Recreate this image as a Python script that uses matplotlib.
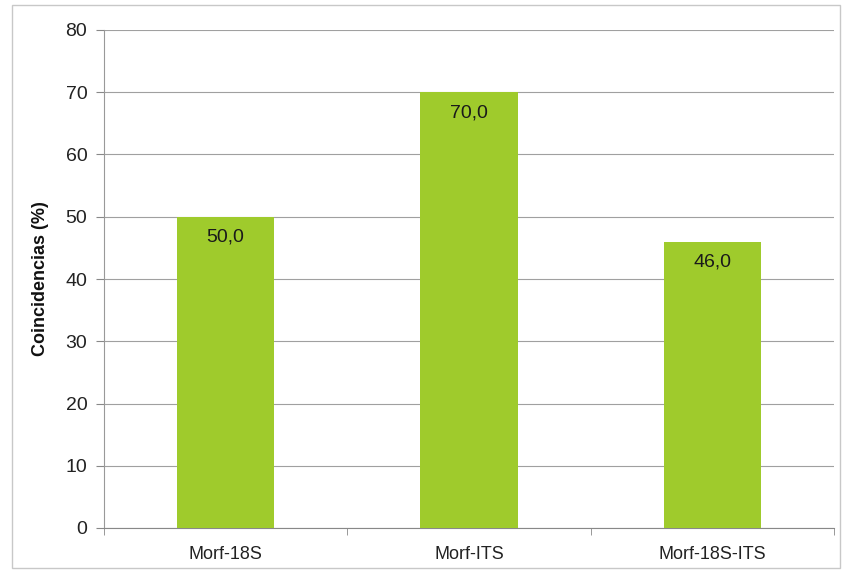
import matplotlib
matplotlib.use("Agg")
import matplotlib.pyplot as plt
from matplotlib.patches import Rectangle

categories = ["Morf-18S", "Morf-ITS", "Morf-18S-ITS"]
values = [50.0, 70.0, 46.0]
y_ticks = [0, 10, 20, 30, 40, 50, 60, 70, 80]

plt.rcParams["font.family"] = ["Liberation Sans", "DejaVu Sans"]

fig = plt.figure(figsize=(8.44, 5.73), dpi=100)
ax = fig.add_axes([104 / 844, 45 / 573, 730 / 844, 498 / 573])

# outer chart-area frame
fig.patches.append(Rectangle((12 / 844, 5 / 573), 828 / 844, 563 / 573,
                             transform=fig.transFigure, fill=False,
                             edgecolor="#c8c8c8", linewidth=1.0))

x = range(len(categories))
bars = ax.bar(x, values, width=0.4, color="#9fcb2c", edgecolor="none", zorder=3)

for rect, v in zip(bars, values):
    ax.text(rect.get_x() + rect.get_width() / 2, v - 3.3,
            f"{v:.1f}".replace(".", ","), ha="center", va="center",
            fontsize=14, color="#1a1a1a", zorder=4)

ax.set_xlim(-0.5, len(categories) - 0.5)
ax.set_ylim(0, 80)
ax.set_yticks(y_ticks)
ax.set_xticks(list(x))
ax.set_xticklabels(categories, fontsize=13)
ax.tick_params(axis="y", labelsize=14, length=6, color="#888888", pad=6,
               labelcolor="#222222")
ax.tick_params(axis="x", length=0, pad=13, labelcolor="#222222")

# category boundary ticks below the x axis
ax.set_xticks([-0.5 + i for i in range(len(categories) + 1)], minor=True)
ax.tick_params(axis="x", which="minor", length=5, color="#888888")

ax.grid(axis="y", color="#a0a0a0", linewidth=0.8, zorder=0)
for side in ["top", "right"]:
    ax.spines[side].set_visible(False)
ax.spines["left"].set_color("#999999")
ax.spines["bottom"].set_color("#888888")

ax.set_ylabel("Coincidencias (%)", fontsize=13, fontweight="bold", labelpad=12,
              color="#111111")

fig.savefig("out.png", dpi=100)
